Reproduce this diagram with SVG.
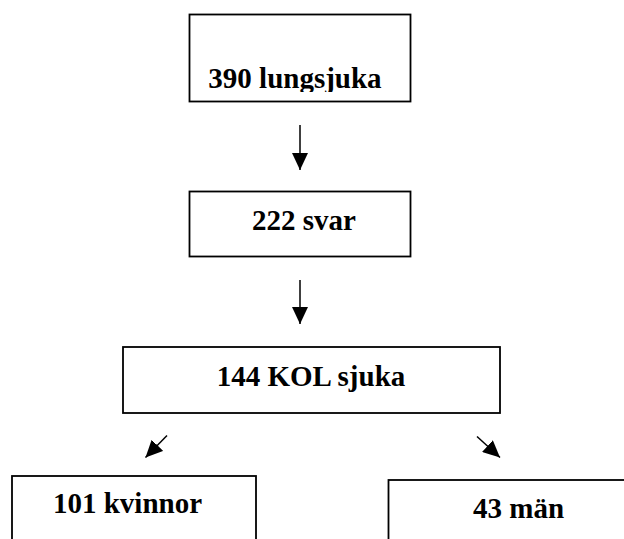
<svg xmlns="http://www.w3.org/2000/svg" width="624" height="539" viewBox="0 0 624 539">
<style>
.box{fill:#fff;stroke:#000;stroke-width:1.8}
.lbl{font-family:"Liberation Serif","Times New Roman",serif;font-weight:bold;font-size:29px;fill:#000;text-anchor:middle}
.conn{stroke:#000;stroke-width:1.5;fill:none}
</style>
<defs>
<marker id="ah" viewBox="0 0 17 16" refX="17" refY="8" markerWidth="17" markerHeight="16" markerUnits="userSpaceOnUse" orient="auto">
<path d="M0,0 L17,8 L0,16 Z" fill="#000"/>
</marker>
<clipPath id="c1"><rect x="190" y="15" width="220" height="77"/></clipPath>
</defs>
<rect width="624" height="539" fill="#fff"/>
<g id="n1">
<rect class="box" x="189.5" y="14.5" width="221" height="87"/>
<text class="lbl" x="295" y="88" clip-path="url(#c1)">390 lungsjuka</text>
</g>
<g id="n2">
<rect class="box" x="189.5" y="191.5" width="221" height="65"/>
<text class="lbl" x="304" y="230">222 svar</text>
</g>
<g id="n3">
<rect class="box" x="123" y="347" width="377" height="66"/>
<text class="lbl" x="311" y="386">144 KOL sjuka</text>
</g>
<g id="n4">
<rect class="box" x="12" y="476" width="244" height="80"/>
<text class="lbl" x="127.5" y="513">101 kvinnor</text>
</g>
<g id="n5">
<rect class="box" x="388.5" y="480" width="260" height="80"/>
<text class="lbl" x="518.5" y="518">43 män</text>
</g>
<g id="connectors">
<line class="conn" x1="300" y1="125" x2="300" y2="170" marker-end="url(#ah)"/>
<line class="conn" x1="300" y1="280" x2="300" y2="324" marker-end="url(#ah)"/>
<line class="conn" x1="167" y1="435.5" x2="145.5" y2="457.5" marker-end="url(#ah)"/>
<line class="conn" x1="477" y1="436.5" x2="500" y2="457.5" marker-end="url(#ah)"/>
</g>
</svg>
